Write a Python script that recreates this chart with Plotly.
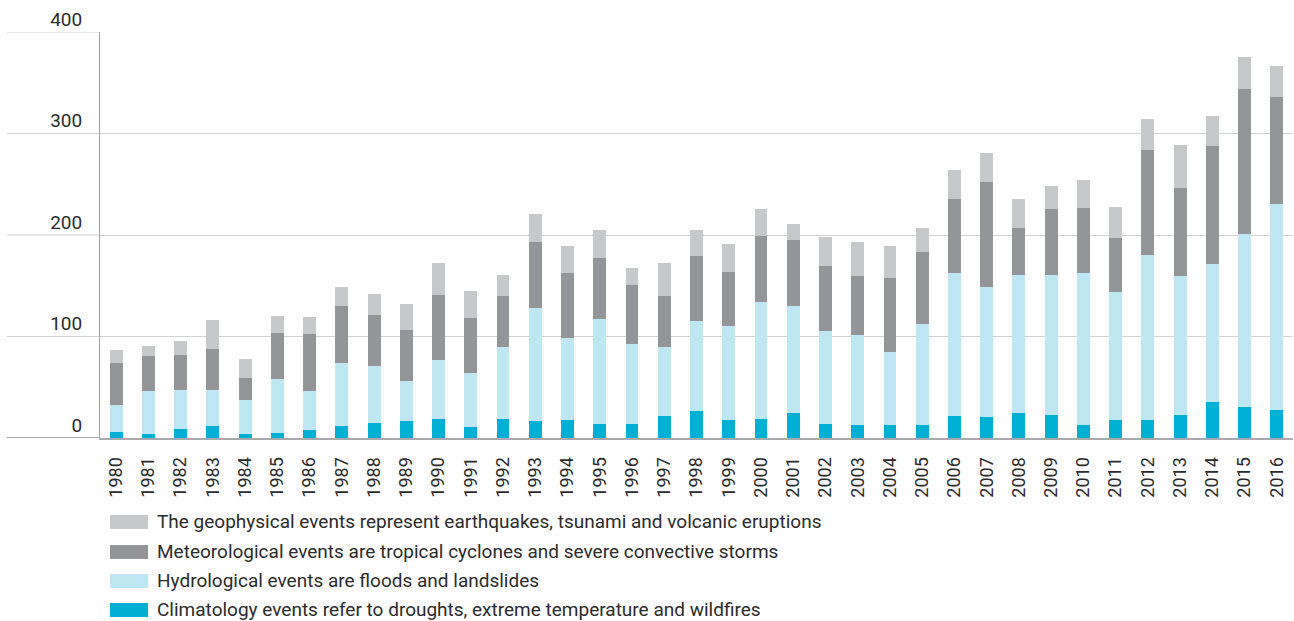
import plotly.graph_objects as go

years = [str(y) for y in range(1980, 2017)]

climatology = [6, 4, 9, 12, 4, 5, 8, 12, 15, 17, 19, 11, 19, 17, 18, 14, 14, 22, 27, 18,
               19, 25, 14, 13, 13, 13, 22, 21, 25, 23, 13, 18, 18, 23, 35, 31, 28]
hydrological = [27, 42, 38, 35, 33, 53, 38, 62, 56, 39, 58, 53, 71, 111, 81, 103, 79, 68, 88, 92,
                115, 105, 91, 88, 72, 99, 141, 128, 136, 138, 150, 126, 162, 137, 136, 170, 203]
meteorological = [41, 35, 35, 41, 22, 45, 56, 56, 50, 50, 64, 54, 50, 65, 64, 60, 58, 50, 64, 54,
                  65, 65, 64, 59, 73, 71, 72, 103, 46, 65, 64, 53, 104, 86, 117, 143, 105]
geophysical = [13, 10, 14, 28, 19, 17, 17, 19, 21, 26, 31, 27, 21, 28, 26, 28, 16, 32, 26, 27,
               27, 16, 29, 33, 31, 24, 29, 29, 28, 22, 27, 31, 30, 43, 29, 31, 31]

names = [
    "Climatology events refer to droughts, extreme temperature and wildfires",
    "Hydrological events are floods and landslides",
    "Meteorological events are tropical cyclones and severe convective storms",
    "The geophysical events represent earthquakes, tsunami and volcanic eruptions",
]
colors = ["#00afd4", "#bee6f3", "#939598", "#c7c8ca"]
series = [climatology, hydrological, meteorological, geophysical]

y_ticks = [0, 100, 200, 300, 400]

FONT = "Roboto"
TXT = "#2b2b2b"

# layout geometry (pixels)
W, H = 1294, 621
L, R, T, B = 100, 1, 32, 183
pw, ph = W - L - R, H - T - B


def px_x(px):
    return (px - L) / pw


def px_y(py):
    return (H - B - py) / ph


fig = go.Figure()
for name, col, vals in zip(names, colors, series):
    fig.add_trace(go.Bar(x=years, y=vals, name=name, marker=dict(color=col, line=dict(width=0)),
                         showlegend=False, hoverinfo="skip"))

shapes = []
# gridline extensions to the left of the y axis
for v in y_ticks:
    shapes.append(dict(type="line", xref="paper", yref="y", x0=px_x(7), x1=0, y0=v, y1=v,
                       line=dict(color="#a7a9ac" if v == 0 else "#d1d2d4",
                                 width=2 if v == 0 else 1.2), layer="below"))

# manual legend (wide swatches), top to bottom: geophysical, meteorological, hydrological, climatology
annotations = []
leg_centers = [522, 552, 581, 610]
for i, idx in enumerate([3, 2, 1, 0]):
    cy = leg_centers[i]
    shapes.append(dict(type="rect", xref="paper", yref="paper",
                       x0=px_x(110), x1=px_x(148), y0=px_y(cy + 7), y1=px_y(cy - 7),
                       fillcolor=colors[idx], line=dict(width=0)))
    annotations.append(dict(xref="paper", yref="paper", x=px_x(155), y=px_y(cy - 0.5),
                            xanchor="left", yanchor="middle", text=names[idx], showarrow=False,
                            font=dict(family=FONT, size=19, color=TXT)))

fig.update_layout(
    width=W, height=H,
    margin=dict(l=L, r=R, t=T, b=B, pad=0),
    barmode="stack",
    bargap=0.6,
    plot_bgcolor="white",
    paper_bgcolor="white",
    font=dict(family=FONT, size=18, color=TXT),
    shapes=shapes,
    annotations=annotations,
    showlegend=False,
)
fig.update_xaxes(
    type="category", tickangle=-90, showgrid=False,
    showline=True, linecolor="#a7a9ac", linewidth=2,
    ticks="", tickfont=dict(family=FONT, size=18, color=TXT),
    ticklabelstandoff=10,
)
fig.update_yaxes(
    range=[0, 400], tickvals=y_ticks, ticktext=[str(v) for v in y_ticks],
    showgrid=True, gridcolor="#d1d2d4", gridwidth=1.2,
    zeroline=False, showline=True, linecolor="#9d9fa2", linewidth=1,
    ticks="", ticklabelposition="outside", ticklabelshift=-13, ticklabelstandoff=13,
    tickfont=dict(family=FONT, size=19, color=TXT),
)

fig.write_html("out.html", config={"displayModeBar": False},
               post_script="document.body.style.margin='0';document.body.style.padding='0';")
